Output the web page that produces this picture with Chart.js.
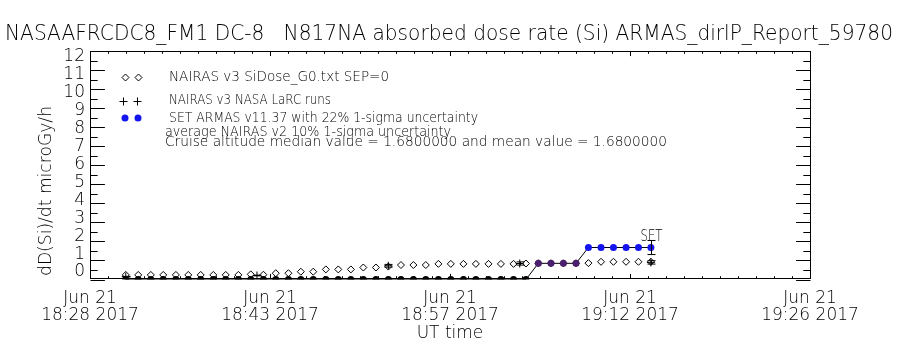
<!DOCTYPE html>
<html>
<head>
<meta charset="utf-8">
<title>ARMAS dose rate</title>
<script src="https://cdn.jsdelivr.net/npm/chart.js@4.4.1/dist/chart.umd.min.js"></script>
<style>
    html, body { margin: 0; padding: 0; background: #fff; }
    canvas { display: block; }
</style>
</head>
<body>
<canvas id="chart" width="900" height="350"></canvas>
<script>
const chartTitle = 'NASAAFRCDC8_FM1 DC-8   N817NA absorbed dose rate (Si) ARMAS_dirlP_Report_59780';
const yTitle = 'dD(Si)/dt microGy/h';
const xTitle = 'UT time';

const legendLabels = [
    'NAIRAS v3 SiDose_G0.txt SEP=0',
    'NAIRAS v3 NASA LaRC runs',
    'SET ARMAS v11.37 with 22% 1-sigma uncertainty',
    'average NAIRAS v2 10% 1-sigma uncertainty',
    'Cruise altitude median value = 1.6800000 and mean value = 1.6800000',
];

// x axis: major ticks (UT) and their two-line labels
const tickTimes = ['18:28:30', '18:43:00', '18:57:30', '19:12:00', '19:26:30'];
const tickDays = ['Jun 21', 'Jun 21', 'Jun 21', 'Jun 21', 'Jun 21'];
const tickLabels = ['18:28 2017', '18:43 2017', '18:57 2017', '19:12 2017', '19:26 2017'];

// one sample per minute
const sampleTimes = [
    '18:31:23', '18:32:23', '18:33:24', '18:34:24', '18:35:25', '18:36:25', '18:37:25', '18:38:26',
    '18:39:26', '18:40:27', '18:41:27', '18:42:28', '18:43:28', '18:44:29', '18:45:29', '18:46:29',
    '18:47:30', '18:48:30', '18:49:31', '18:50:31', '18:51:32', '18:52:32', '18:53:33', '18:54:33',
    '18:55:33', '18:56:34', '18:57:34', '18:58:35', '18:59:35', '19:00:36', '19:01:36', '19:02:37',
    '19:03:37', '19:04:37', '19:05:38', '19:06:38', '19:07:39', '19:08:39', '19:09:40', '19:10:40',
    '19:11:41', '19:12:41', '19:13:41',
];

const nairasG0 = [
    0.24, 0.24, 0.24, 0.24, 0.24, 0.24, 0.24, 0.24, 0.24, 0.24,
    0.27, 0.25, 0.33, 0.33, 0.41, 0.41, 0.53, 0.53, 0.53, 0.63,
    0.63, 0.68, 0.76, 0.76, 0.76, 0.82, 0.82, 0.82, 0.82, 0.82,
    0.82, 0.82, 0.84, 0.85, 0.85, 0.85, 0.85, 0.86, 0.93, 0.93,
    0.93, 0.93, 0.93,
];

const setArmas = [
    0, 0, 0, 0, 0, 0, 0, 0, 0, 0,
    0, 0, 0, 0, 0, 0, 0, 0, 0, 0,
    0, 0, 0, 0, 0, 0, 0, 0, 0, 0,
    0, 0, 0, 0.85, 0.85, 0.85, 0.85, 1.68, 1.68, 1.68,
    1.68, 1.68, 1.68,
];

const larcTimes = ['18:31:23', '18:41:57', '18:52:32', '19:03:07', '19:13:41'];
const larcValues = [0.15, 0.21, 0.72, 0.84, 0.9];

const setSigma = 0.22;
const nairasSigma = 0.10;

const yMin = 0;
const yMax = 12;

function toMinutes(t) {
    const [h, m, s] = t.split(':').map(Number);
    return (h - 18) * 60 + m + s / 60;
}

// thin strokes, closer to the IDL vector font
const font = 'DejaVu Sans';
const weight = 200;

function fitText(ctx, text, x, y, width, size) {
    ctx.font = weight + ' ' + size + 'px "' + font + '"';
    const w = ctx.measureText(text).width;
    ctx.save();
    ctx.translate(x, y);
    ctx.scale(width / w, 1);
    ctx.fillText(text, 0, 0);
    ctx.restore();
}

function line(ctx, x1, y1, x2, y2) {
    ctx.beginPath();
    ctx.moveTo(x1, y1);
    ctx.lineTo(x2, y2);
    ctx.stroke();
}

function setColor(v) {
    if (v > 1.2) return '#1414f0';
    if (v > 0.4) return '#4a1f6e';
    return '#000';
}

const idlFrame = {
    id: 'idlFrame',
    beforeDatasetsDraw(chart) {
        const { ctx, chartArea: a, scales: { x, y } } = chart;
        const left = Math.floor(a.left) + 0.5;
        const right = Math.floor(a.right) + 0.5;
        const top = Math.floor(a.top) + 0.5;
        const bottom = Math.floor(a.bottom) - 0.5;
        ctx.save();
        ctx.strokeStyle = '#000';
        ctx.lineWidth = 1;
        ctx.strokeRect(left, top, right - left, bottom - top);

        // y ticks, inward on both sides
        const ylen = (a.right - a.left) * 0.02;
        for (let v = y.min; v <= y.max; v += 0.5) {
            const py = Math.round(y.getPixelForValue(v)) + 0.5;
            const len = Number.isInteger(v) ? ylen : ylen / 2;
            line(ctx, left, py, left + len, py);
            line(ctx, right, py, right - len, py);
        }

        // y labels: IDL keeps the end labels inside the axis span
        ctx.fillStyle = '#000';
        ctx.font = weight + ' 17px "' + font + '"';
        ctx.textAlign = 'right';
        ctx.textBaseline = 'middle';
        const span = (a.bottom - a.top) - 13.5;
        y.ticks.forEach(t => {
            const frac = (t.value - y.min) / (y.max - y.min);
            ctx.fillText(String(t.value), a.left - 5, a.bottom - 7.5 - frac * span);
        });

        // x ticks, 10 minor per major
        const xlen = (a.bottom - a.top) * 0.02;
        const step = (x.ticks[1].value - x.ticks[0].value) / 10;
        const n = Math.round((x.max - x.min) / step);
        for (let k = 0; k <= n; k++) {
            const px = Math.round(x.getPixelForValue(x.min + k * step)) + 0.5;
            const len = k % 10 === 0 ? xlen : xlen / 2;
            line(ctx, px, bottom, px, bottom - len);
            line(ctx, px, top, px, top + len);
        }
        ctx.restore();
    },
    afterDatasetsDraw(chart) {
        const { ctx, scales: { x, y } } = chart;
        ctx.save();
        ctx.strokeStyle = '#000';
        ctx.fillStyle = '#000';
        ctx.lineWidth = 1;

        const errBar = (t, v, sigma) => {
            const px = Math.round(x.getPixelForValue(t)) + 0.5;
            const lo = y.getPixelForValue(v * (1 - sigma));
            const hi = y.getPixelForValue(v * (1 + sigma));
            line(ctx, px, lo, px, hi);
            line(ctx, px - 4, lo, px + 4, lo);
            line(ctx, px - 4, hi, px + 4, hi);
            return { px, hi };
        };

        larcTimes.forEach((t, i) => errBar(toMinutes(t), larcValues[i], nairasSigma));

        const last = setArmas.length - 1;
        const top = errBar(toMinutes(sampleTimes[last]), setArmas[last], setSigma);
        ctx.textAlign = 'left';
        ctx.textBaseline = 'alphabetic';
        fitText(ctx, 'SET', top.px - 11, top.hi + 1, 22, 15);
        ctx.restore();
    },
    afterDraw(chart) {
        const { ctx } = chart;
        ctx.save();
        ctx.fillStyle = '#000';
        ctx.strokeStyle = '#000';
        ctx.lineWidth = 1;
        ctx.textBaseline = 'middle';
        ctx.textAlign = 'left';

        fitText(ctx, chartTitle, 5, 35, 888, 21);

        ctx.save();
        ctx.translate(46, 191);
        ctx.rotate(-Math.PI / 2);
        fitText(ctx, yTitle, -85, 0, 170, 18);
        ctx.restore();

        // legend glyphs
        const diamond = (cx, cy) => {
            ctx.beginPath();
            ctx.moveTo(cx, cy - 3.5);
            ctx.lineTo(cx + 3.5, cy);
            ctx.lineTo(cx, cy + 3.5);
            ctx.lineTo(cx - 3.5, cy);
            ctx.closePath();
            ctx.stroke();
        };
        const plus = (cx, cy) => {
            line(ctx, cx - 4, cy, cx + 4, cy);
            line(ctx, cx, cy - 4, cx, cy + 4);
        };
        const dot = (cx, cy) => {
            ctx.beginPath();
            ctx.arc(cx, cy, 3.5, 0, Math.PI * 2);
            ctx.fillStyle = setColor(1.68);
            ctx.fill();
            ctx.fillStyle = '#000';
        };
        [125.5, 138.5].forEach(cx => diamond(cx, 77.5));
        [123.5, 137.5].forEach(cx => plus(cx, 101.5));
        [125, 138].forEach(cx => dot(cx, 118));

        const rows = [
            [77, 169, 220], [100, 169, 162], [118, 169, 309], [132, 165, 286], [142, 165, 502],
        ];
        legendLabels.forEach((text, i) => fitText(ctx, text, rows[i][1], rows[i][0], rows[i][2], 14));
        ctx.restore();
    },
};

new Chart(document.getElementById('chart'), {
    type: 'scatter',
    plugins: [idlFrame],
    data: {
        datasets: [
            {
                label: legendLabels[2],
                data: sampleTimes.map((t, i) => ({ x: toMinutes(t), y: setArmas[i] })),
                showLine: true,
                borderColor: '#000',
                borderWidth: 1,
                pointRadius: 3.5,
                pointBorderWidth: 0,
                pointBackgroundColor: c => setColor(c.raw ? c.raw.y : 0),
                pointBorderColor: c => setColor(c.raw ? c.raw.y : 0),
            },
            {
                label: legendLabels[1],
                data: larcTimes.map((t, i) => ({ x: toMinutes(t), y: larcValues[i] })),
                pointStyle: 'cross',
                pointRadius: 4,
                pointBorderWidth: 1,
                pointBorderColor: '#000',
                borderColor: '#000',
            },
            {
                label: legendLabels[0],
                data: sampleTimes.map((t, i) => ({ x: toMinutes(t), y: nairasG0[i] })),
                pointStyle: 'rectRot',
                pointRadius: 3.5,
                pointBorderWidth: 1,
                pointBorderColor: '#000',
                pointBackgroundColor: 'rgba(0,0,0,0)',
            },
        ]
    },
    options: {
        responsive: false,
        animation: false,
        events: [],
        layout: {
            padding: { top: 51, right: 90, left: 0, bottom: 0 }
        },
        plugins: {
            legend: { display: false },
            tooltip: { enabled: false },
        },
        scales: {
            x: {
                type: 'linear',
                min: toMinutes(tickTimes[0]),
                max: toMinutes(tickTimes[tickTimes.length - 1]),
                afterBuildTicks(scale) {
                    scale.ticks = tickTimes.map(t => ({ value: toMinutes(t) }));
                },
                afterFit(scale) {
                    scale.height = 70.5;
                },
                grid: { display: false, drawTicks: false },
                border: { display: false },
                ticks: {
                    autoSkip: false,
                    maxRotation: 0,
                    padding: 11,
                    color: '#000',
                    font: { family: font, weight: weight, size: 17, lineHeight: 1 },
                    callback: (value, index) => [tickDays[index], tickLabels[index]],
                },
                title: {
                    display: true,
                    text: xTitle,
                    color: '#000',
                    font: { family: font, weight: weight, size: 17, lineHeight: 1.2 },
                    padding: { top: 0, bottom: 6 },
                },
            },
            y: {
                min: yMin,
                max: yMax,
                afterFit(scale) {
                    scale.width = 90;
                },
                grid: { display: false, drawTicks: false },
                border: { display: false },
                ticks: {
                    display: false,
                    stepSize: 1,
                    autoSkip: false,
                },
            },
        }
    }
});
</script>
</body>
</html>
